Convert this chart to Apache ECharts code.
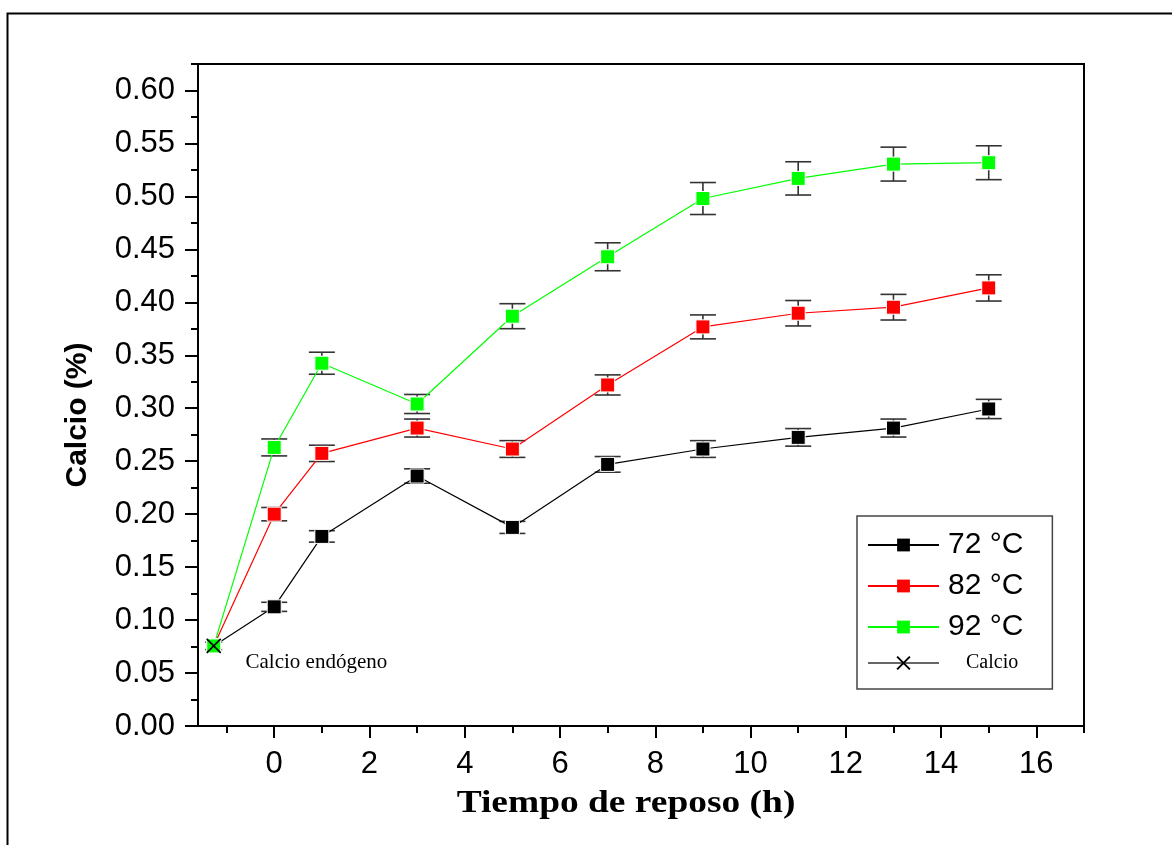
<!DOCTYPE html>
<html><head><meta charset="utf-8">
<script src="https://cdn.jsdelivr.net/npm/echarts@6/dist/echarts.min.js"></script>
<style>html,body{margin:0;padding:0;background:#fff}#c{width:1172px;height:845px}</style>
</head><body><div id="c"></div>
<script>
// ---- data ----
const timesH = [0, 1, 3, 5, 7, 9, 11, 13, 15];
const endogenousX = [-1.27];
const endogenousCa = [0.0756];
const endogenousErr = [0.0035];
const ca72 = [0.1125, 0.179, 0.236, 0.1875, 0.247, 0.2615, 0.2725, 0.2813, 0.2993];
const err72 = [0.0043, 0.0054, 0.0068, 0.0057, 0.0074, 0.0079, 0.0083, 0.0085, 0.0091];
const ca82 = [0.200, 0.2574, 0.2813, 0.2615, 0.322, 0.3768, 0.3897, 0.3954, 0.4136];
const err82 = [0.0063, 0.0077, 0.0085, 0.0079, 0.0095, 0.0113, 0.0120, 0.0121, 0.0124];
const ca92 = [0.263, 0.3425, 0.304, 0.3869, 0.443, 0.498, 0.517, 0.5305, 0.5318];
const err92 = [0.0080, 0.0104, 0.0090, 0.0118, 0.0132, 0.0151, 0.0157, 0.0160, 0.0160];
const seriesNames = ['72 °C', '82 °C', '92 °C', 'Calcio'];
const annotationText = 'Calcio endógeno';
const xTitle = 'Tiempo de reposo (h)';
const yTitle = 'Calcio (%)';
const xMajorTicks = [0, 2, 4, 6, 8, 10, 12, 14, 16];
const xMinorTicks = [-1, 1, 3, 5, 7, 9, 11, 13, 15, 17];
const yMajorTicks = [0, 0.05, 0.10, 0.15, 0.20, 0.25, 0.30, 0.35, 0.40, 0.45, 0.50, 0.55, 0.60];
const yMinorTicks = [0.025, 0.075, 0.125, 0.175, 0.225, 0.275, 0.325, 0.375, 0.425, 0.475, 0.525, 0.575, 0.625];

const SANS = '"Liberation Sans", Arial, sans-serif';
const SERIF = '"Liberation Serif", "Times New Roman", serif';
const X_MIN = -1.6, X_MAX = 17, Y_MIN = 0, Y_MAX = 0.625;

function pts(xs, ys) { return xs.map((x, i) => [x, ys[i]]); }

function errorBars(xs, ys, es, cap) {
  return {
    type: 'custom', xAxisIndex: 0, yAxisIndex: 0, z: 1, silent: true,
    data: xs.map((x, i) => [x, ys[i] - es[i], ys[i] + es[i]]),
    encode: { x: 0, y: [1, 2] },
    renderItem: function (params, api) {
      const lo = api.coord([api.value(0), api.value(1)]);
      const hi = api.coord([api.value(0), api.value(2)]);
      const st = { stroke: '#333', lineWidth: 1.6 };
      return { type: 'group', children: [
        { type: 'line', shape: { x1: lo[0], y1: lo[1], x2: hi[0], y2: hi[1] }, style: st },
        { type: 'line', shape: { x1: lo[0] - cap, y1: lo[1], x2: lo[0] + cap, y2: lo[1] }, style: st },
        { type: 'line', shape: { x1: hi[0] - cap, y1: hi[1], x2: hi[0] + cap, y2: hi[1] }, style: st }
      ]};
    }
  };
}

function tempSeries(name, color, ys) {
  return {
    type: 'line', name: name, xAxisIndex: 0, yAxisIndex: 0, z: 3,
    data: pts(endogenousX, endogenousCa).concat(pts(timesH, ys)),
    symbol: 'rect', symbolSize: 14,
    lineStyle: { color: color, width: 1.2 },
    itemStyle: { color: color, borderColor: '#fff', borderWidth: 1 },
    emphasis: { disabled: true }
  };
}

const chart = echarts.init(document.getElementById('c'), null, { renderer: 'canvas' });
const gridPos = { left: 198, top: 64, right: 88, bottom: 119 };
const axisLine = { show: true, onZero: false, lineStyle: { color: '#000', width: 2 } };

chart.setOption({
  animation: false,
  backgroundColor: '#fff',
  grid: [
    Object.assign({ show: true, borderColor: '#000', borderWidth: 2, backgroundColor: 'transparent' }, gridPos),
    Object.assign({ show: false }, gridPos)
  ],
  xAxis: [
    { type: 'value', gridIndex: 0, min: X_MIN, max: X_MAX, position: 'bottom',
      axisLine: axisLine, splitLine: { show: false },
      axisTick: { show: true, length: 12, lineStyle: { color: '#000', width: 2 }, customValues: xMajorTicks },
      axisLabel: { show: true, customValues: xMajorTicks, margin: 23, color: '#000', fontSize: 31, fontFamily: SANS } },
    { type: 'value', gridIndex: 1, min: X_MIN, max: X_MAX, position: 'bottom',
      axisLine: { show: false, onZero: false }, splitLine: { show: false },
      axisTick: { show: true, length: 7, lineStyle: { color: '#000', width: 2 }, customValues: xMinorTicks },
      axisLabel: { show: false } }
  ],
  yAxis: [
    { type: 'value', gridIndex: 0, min: Y_MIN, max: Y_MAX, position: 'left',
      axisLine: axisLine, splitLine: { show: false },
      axisTick: { show: true, length: 13, lineStyle: { color: '#000', width: 2 }, customValues: yMajorTicks },
      axisLabel: { show: true, customValues: yMajorTicks, margin: 23, color: '#000', fontSize: 31, fontFamily: SANS,
                   formatter: v => Number(v).toFixed(2) } },
    { type: 'value', gridIndex: 1, min: Y_MIN, max: Y_MAX, position: 'left',
      axisLine: { show: false, onZero: false }, splitLine: { show: false },
      axisTick: { show: true, length: 7, lineStyle: { color: '#000', width: 2 }, customValues: yMinorTicks },
      axisLabel: { show: false } }
  ],
  legend: {
    orient: 'vertical', left: 857, top: 516,
    data: seriesNames.map(n => n === 'Calcio' ? n : { name: n, itemStyle: { borderWidth: 0 } }),
    itemWidth: 71, itemHeight: 16, itemGap: 11,
    padding: [14, 29, 16, 10],
    borderColor: '#444', borderWidth: 1.5,
    selectedMode: false,
    formatter: name => name === 'Calcio' ? '{b|' + name + '}' : '{a|' + name + '}',
    textStyle: { rich: {
      a: { fontSize: 30, fontFamily: SANS, color: '#000', padding: [0, 0, 0, 4], lineHeight: 30 },
      b: { fontSize: 20, fontFamily: SERIF, color: '#000', padding: [0, 0, 0, 22], lineHeight: 22 }
    } }
  },
  graphic: [
    { type: 'rect', silent: true, z: -10, shape: { x: 7.5, y: 13.5, width: 1400, height: 1000 },
      style: { fill: 'none', stroke: '#000', lineWidth: 2 } },
    { type: 'text', silent: true, x: 78, y: 415, rotation: Math.PI / 2,
      style: { text: yTitle, fontSize: 30, fontWeight: 'bold', fontFamily: SANS, fill: '#000', align: 'center', verticalAlign: 'middle' } },
    { type: 'text', silent: true, x: 626, y: 804, scaleX: 1.17,
      style: { text: xTitle, fontSize: 32, fontWeight: 'bold', fontFamily: SERIF, fill: '#000', align: 'center', verticalAlign: 'middle' } }
  ],
  series: [
    errorBars(endogenousX, endogenousCa, endogenousErr, 8.5),
    errorBars(timesH, ca72, err72, 13),
    errorBars(timesH, ca82, err82, 13),
    errorBars(timesH, ca92, err92, 13),
    tempSeries(seriesNames[0], '#000000', ca72),
    tempSeries(seriesNames[1], '#ff0000', ca82),
    tempSeries(seriesNames[2], '#00ff00', ca92),
    {
      type: 'line', name: seriesNames[3], xAxisIndex: 0, yAxisIndex: 0, z: 4,
      data: pts(endogenousX, endogenousCa),
      symbol: 'path://M0,0L10,10M10,0L0,10', symbolSize: 14,
      lineStyle: { color: '#666', width: 1.2 },
      itemStyle: { color: 'rgba(0,0,0,0)', borderColor: '#000', borderWidth: 1.6 },
      emphasis: { disabled: true },
      label: { show: true, position: 'right', distance: 24, offset: [0, 17], formatter: annotationText,
               fontFamily: SERIF, fontSize: 21, color: '#000' }
    }
  ]
});
</script></body></html>
